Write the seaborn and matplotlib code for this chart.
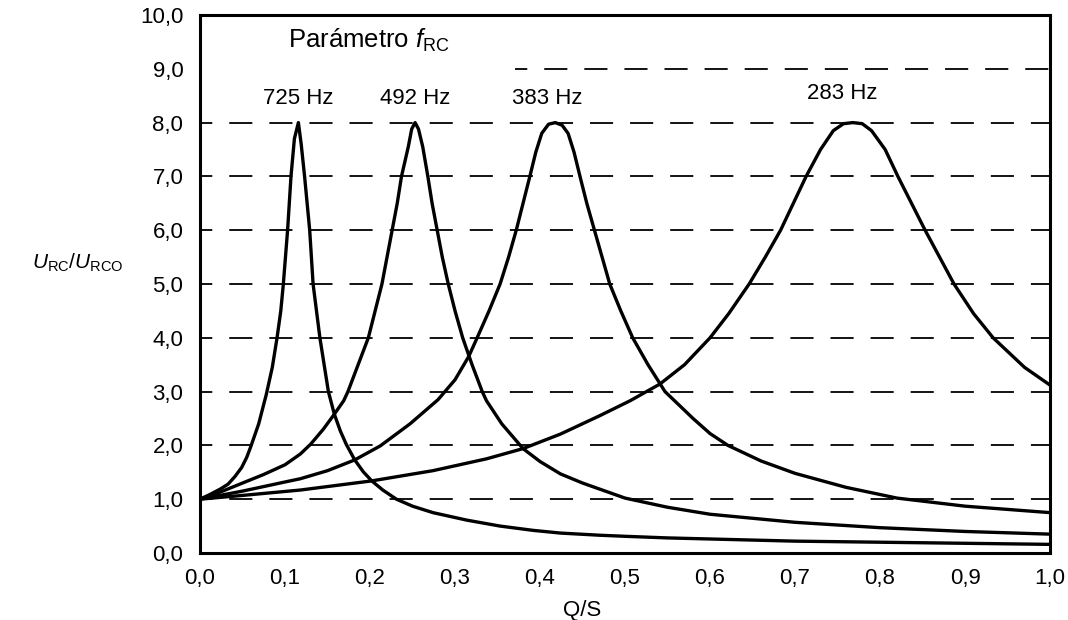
import matplotlib
matplotlib.use("Agg")
import matplotlib.pyplot as plt
import seaborn as sns
import pandas as pd

# values (Q/S vs U_RC/U_RCO)
x_725 = [0.0, 0.012, 0.024, 0.033, 0.041, 0.049, 0.055, 0.06, 0.069, 0.078, 0.085, 0.0906,
         0.095, 0.098, 0.1005, 0.103, 0.105, 0.107, 0.111, 0.1157, 0.119, 0.123, 0.129, 0.133,
         0.141, 0.151, 0.158, 0.165, 0.172, 0.182, 0.192, 0.202, 0.215, 0.231, 0.25, 0.274,
         0.314, 0.353, 0.392, 0.424, 0.47, 0.5, 0.55, 0.6, 0.7, 0.8, 0.9, 1.0]
y_725 = [1.0, 1.09, 1.19, 1.28, 1.42, 1.59, 1.78, 1.99, 2.4, 2.95, 3.45, 4.0,
         4.5, 5.0, 5.5, 6.0, 6.5, 7.0, 7.7, 8.0, 7.6, 7.0, 6.0, 5.0,
         4.0, 3.0, 2.58, 2.27, 2.02, 1.73, 1.51, 1.34, 1.17, 1.0, 0.87, 0.75,
         0.61, 0.5, 0.42, 0.37, 0.33, 0.31, 0.28, 0.26, 0.22, 0.2, 0.18, 0.16]

x_492 = [0.0, 0.025, 0.05, 0.075, 0.1, 0.118, 0.13, 0.145, 0.158, 0.169, 0.174, 0.186,
         0.198, 0.206, 0.214, 0.22, 0.226, 0.232, 0.237, 0.245, 0.249, 0.253, 0.257, 0.262,
         0.268, 0.273, 0.279, 0.285, 0.292, 0.3, 0.309, 0.32, 0.332, 0.337, 0.355, 0.38,
         0.4, 0.424, 0.45, 0.5, 0.55, 0.6, 0.7, 0.8, 0.9, 1.0]
y_492 = [1.0, 1.14, 1.3, 1.46, 1.64, 1.84, 2.02, 2.3, 2.58, 2.83, 3.0, 3.5,
         4.0, 4.5, 5.0, 5.5, 6.0, 6.5, 7.0, 7.55, 7.88, 8.0, 7.88, 7.55,
         7.0, 6.5, 6.0, 5.5, 5.0, 4.5, 4.0, 3.5, 3.0, 2.83, 2.4, 1.94,
         1.7, 1.47, 1.3, 1.02, 0.85, 0.72, 0.57, 0.47, 0.4, 0.35]

x_383 = [0.0, 0.05, 0.1, 0.118, 0.15, 0.182, 0.212, 0.247, 0.28, 0.3, 0.316, 0.326,
         0.34, 0.353, 0.363, 0.372, 0.38, 0.388, 0.395, 0.402, 0.41, 0.418, 0.426, 0.433,
         0.44, 0.447, 0.455, 0.464, 0.473, 0.482, 0.495, 0.509, 0.527, 0.547, 0.58, 0.6,
         0.621, 0.66, 0.7, 0.76, 0.82, 0.9, 1.0]
y_383 = [1.0, 1.15, 1.32, 1.38, 1.53, 1.73, 1.99, 2.4, 2.85, 3.22, 3.65, 4.0,
         4.5, 5.0, 5.5, 6.0, 6.5, 7.0, 7.45, 7.8, 7.97, 8.0, 7.95, 7.8,
         7.45, 7.0, 6.5, 6.0, 5.5, 5.0, 4.5, 4.0, 3.5, 3.0, 2.5, 2.22,
         2.0, 1.71, 1.48, 1.22, 1.02, 0.87, 0.75]

x_283 = [0.0, 0.05, 0.118, 0.202, 0.274, 0.337, 0.38, 0.424, 0.47, 0.506, 0.541, 0.57,
         0.6, 0.622, 0.646, 0.665, 0.683, 0.698, 0.713, 0.73, 0.745, 0.757, 0.768, 0.779,
         0.79, 0.806, 0.821, 0.837, 0.853, 0.87, 0.887, 0.91, 0.933, 0.97, 1.0]
y_283 = [1.0, 1.07, 1.17, 1.34, 1.53, 1.75, 1.94, 2.21, 2.55, 2.83, 3.14, 3.5,
         4.0, 4.45, 5.0, 5.5, 6.0, 6.5, 7.0, 7.5, 7.85, 7.98, 8.0, 7.98,
         7.85, 7.5, 7.0, 6.5, 6.0, 5.5, 5.0, 4.45, 4.0, 3.45, 3.12]

curve_labels = ["725 Hz", "492 Hz", "383 Hz", "283 Hz"]
label_x = [0.115, 0.253, 0.408, 0.756]
label_y = [8.45, 8.45, 8.45, 8.55]

y_ticks = [0, 1, 2, 3, 4, 5, 6, 7, 8, 9, 10]
x_ticks = [0.0, 0.1, 0.2, 0.3, 0.4, 0.5, 0.6, 0.7, 0.8, 0.9, 1.0]

sns.set_theme(style="white")
plt.rcParams["font.family"] = ["Liberation Sans", "DejaVu Sans"]
plt.rcParams["mathtext.fontset"] = "custom"
plt.rcParams["mathtext.rm"] = "Liberation Sans"
plt.rcParams["mathtext.it"] = "Liberation Sans:italic"
plt.rcParams["mathtext.bf"] = "Liberation Sans:bold"

fig = plt.figure(figsize=(10.68, 6.2), dpi=100)
ax = fig.add_axes([0.1873, 0.1081, 0.7959, 0.8677])

# dashed reference lines
dash = (6.0, (12.8, 9.4))
ax.hlines([1, 2, 3, 4, 5, 6, 7, 8], 0, 1, colors="black", linewidth=1.3, linestyles=[dash])
ax.hlines([9], 0.37, 1, colors="black", linewidth=1.3, linestyles=[dash])

curves = [(x_725, y_725), (x_492, y_492), (x_383, y_383), (x_283, y_283)]
for xs, ys in curves:
    df = pd.DataFrame({"Q/S": xs, "U": ys})
    sns.lineplot(data=df, x="Q/S", y="U", ax=ax, color="black", linewidth=2.4,
                 estimator=None, solid_joinstyle="round", solid_capstyle="round")

for txt, lx, ly in zip(curve_labels, label_x, label_y):
    ax.text(lx, ly, txt, ha="center", va="center", fontsize=16, color="black")

ax.text(0.103, 9.52, r"Parámetro $f_{\mathrm{RC}}$", ha="left", va="center", fontsize=18.5, color="black")

ax.set_xlim(0, 1)
ax.set_ylim(0, 10)
ax.set_xticks(x_ticks)
ax.set_yticks(y_ticks)
ax.set_xticklabels([f"{v:.1f}".replace(".", ",") for v in x_ticks])
ax.set_yticklabels([f"{v:.1f}".replace(".", ",") for v in y_ticks])
ax.tick_params(axis="x", direction="in", length=7, width=1.6, pad=11, labelsize=16, colors="black")
ax.tick_params(axis="y", direction="in", length=5, width=1.6, pad=12, labelsize=16, colors="black")

for sp in ax.spines.values():
    sp.set_color("black")
    sp.set_linewidth(2.2)

ax.set_xlabel("Q/S", fontsize=16, color="black")
ax.xaxis.set_label_coords(0.45, -0.088)
ax.set_ylabel("")
fig.text(32 / 1068, 1 - 263 / 620, r"$U_{\mathrm{RC}}/U_{\mathrm{RCO}}$",
         ha="left", va="center", fontsize=15, color="black")

fig.savefig("out.png", dpi=100)
